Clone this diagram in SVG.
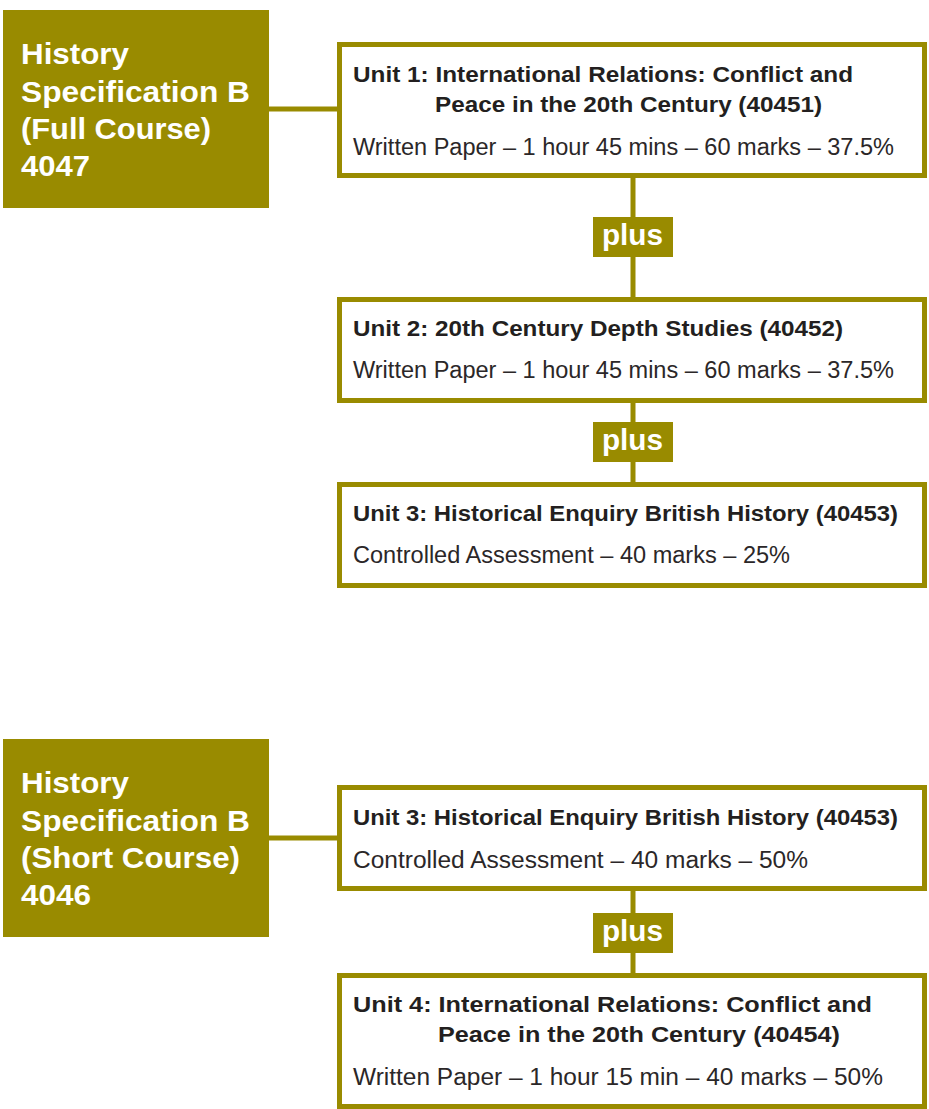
<svg xmlns="http://www.w3.org/2000/svg" width="929" height="1109" viewBox="0 0 929 1109">
<style>
.spec{fill:#998b00}
.head{font-family:"Liberation Sans",Arial,sans-serif;font-weight:bold;font-size:30px;fill:#ffffff}
.unit{fill:#ffffff;stroke:#998b00;stroke-width:5}
.title{font-family:"Liberation Sans",Arial,sans-serif;font-weight:bold;font-size:22.5px;fill:#231f20}
.body{font-family:"Liberation Sans",Arial,sans-serif;font-size:23px;fill:#2b2728}
.plus{font-family:"Liberation Sans",Arial,sans-serif;font-weight:bold;font-size:29px;fill:#ffffff}
.line{stroke:#998b00;stroke-width:5;fill:none}
</style>
<rect width="929" height="1109" fill="#ffffff"/>
<g id="connectors">
<line class="line" x1="269" y1="109" x2="338" y2="109"/>
<line class="line" x1="633" y1="176" x2="633" y2="298"/>
<line class="line" x1="633" y1="401" x2="633" y2="483"/>
<line class="line" x1="269" y1="838" x2="338" y2="838"/>
<line class="line" x1="633" y1="890" x2="633" y2="974"/>
</g>
<g id="spec-full">
<rect class="spec" x="3" y="10" width="266" height="198"/>
<text class="head" x="21" y="64" textLength="108" lengthAdjust="spacingAndGlyphs">History</text>
<text class="head" x="21" y="102" textLength="229" lengthAdjust="spacingAndGlyphs">Specification B</text>
<text class="head" x="21" y="139" textLength="190" lengthAdjust="spacingAndGlyphs">(Full Course)</text>
<text class="head" x="21" y="176" textLength="69" lengthAdjust="spacingAndGlyphs">4047</text>
</g>
<g id="unit1">
<rect class="unit" x="339.5" y="44.5" width="585" height="131"/>
<text class="title" x="353" y="82" textLength="500" lengthAdjust="spacingAndGlyphs">Unit 1: International Relations: Conflict and</text>
<text class="title" x="435" y="112" textLength="387" lengthAdjust="spacingAndGlyphs">Peace in the 20th Century (40451)</text>
<text class="body" x="353" y="155" textLength="541" lengthAdjust="spacingAndGlyphs">Written Paper – 1 hour 45 mins – 60 marks – 37.5%</text>
</g>
<g id="plus1">
<rect class="spec" x="593" y="217" width="80" height="40"/>
<text class="plus" x="602" y="245" textLength="61" lengthAdjust="spacingAndGlyphs">plus</text>
</g>
<g id="unit2">
<rect class="unit" x="339.5" y="299.5" width="585" height="101"/>
<text class="title" x="353" y="336" textLength="490" lengthAdjust="spacingAndGlyphs">Unit 2: 20th Century Depth Studies (40452)</text>
<text class="body" x="353" y="378" textLength="541" lengthAdjust="spacingAndGlyphs">Written Paper – 1 hour 45 mins – 60 marks – 37.5%</text>
</g>
<g id="plus2">
<rect class="spec" x="593" y="422" width="80" height="40"/>
<text class="plus" x="602" y="450" textLength="61" lengthAdjust="spacingAndGlyphs">plus</text>
</g>
<g id="unit3">
<rect class="unit" x="339.5" y="484.5" width="585" height="101"/>
<text class="title" x="353" y="521" textLength="545" lengthAdjust="spacingAndGlyphs">Unit 3: Historical Enquiry British History (40453)</text>
<text class="body" x="353" y="563" textLength="437" lengthAdjust="spacingAndGlyphs">Controlled Assessment – 40 marks – 25%</text>
</g>
<g id="spec-short">
<rect class="spec" x="3" y="739" width="266" height="198"/>
<text class="head" x="21" y="793" textLength="108" lengthAdjust="spacingAndGlyphs">History</text>
<text class="head" x="21" y="831" textLength="229" lengthAdjust="spacingAndGlyphs">Specification B</text>
<text class="head" x="21" y="868" textLength="219" lengthAdjust="spacingAndGlyphs">(Short Course)</text>
<text class="head" x="21" y="905" textLength="70" lengthAdjust="spacingAndGlyphs">4046</text>
</g>
<g id="unit3-short">
<rect class="unit" x="339.5" y="787.5" width="585" height="101"/>
<text class="title" x="353" y="825" textLength="545" lengthAdjust="spacingAndGlyphs">Unit 3: Historical Enquiry British History (40453)</text>
<text class="body" x="353" y="868" textLength="455" lengthAdjust="spacingAndGlyphs">Controlled Assessment – 40 marks – 50%</text>
</g>
<g id="plus3">
<rect class="spec" x="593" y="913" width="80" height="40"/>
<text class="plus" x="602" y="941" textLength="61" lengthAdjust="spacingAndGlyphs">plus</text>
</g>
<g id="unit4">
<rect class="unit" x="339.5" y="975.5" width="585" height="131"/>
<text class="title" x="353" y="1012" textLength="519" lengthAdjust="spacingAndGlyphs">Unit 4: International Relations: Conflict and</text>
<text class="title" x="438" y="1042" textLength="402" lengthAdjust="spacingAndGlyphs">Peace in the 20th Century (40454)</text>
<text class="body" x="353" y="1085" textLength="530" lengthAdjust="spacingAndGlyphs">Written Paper – 1 hour 15 min – 40 marks – 50%</text>
</g>
</svg>
